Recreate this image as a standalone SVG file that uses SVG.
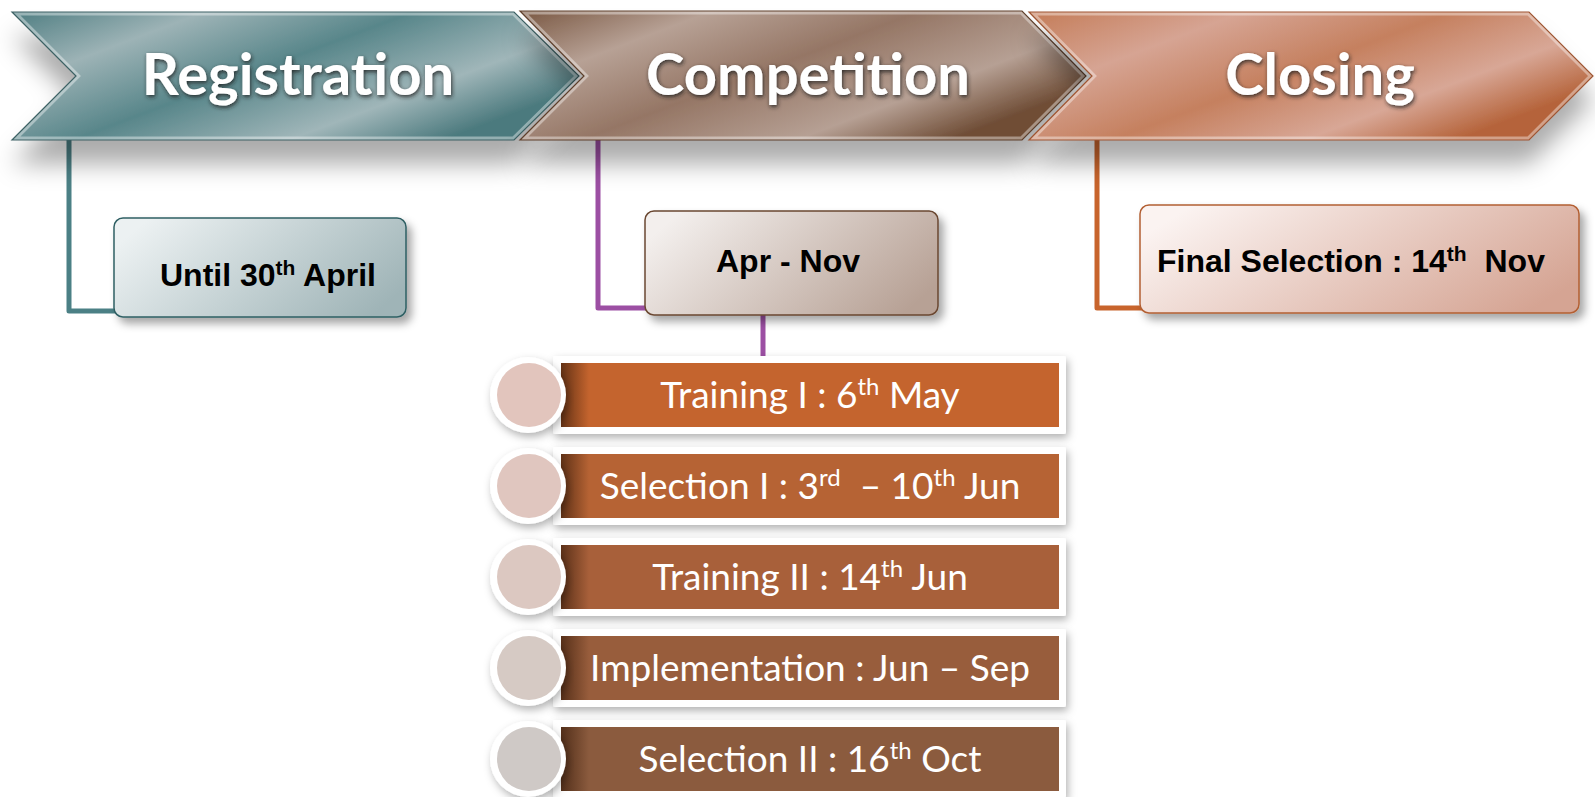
<svg xmlns="http://www.w3.org/2000/svg" xmlns:xlink="http://www.w3.org/1999/xlink" width="1595" height="797" viewBox="0 0 1595 797">
<style>
.hdr{font-family:Lato,"Open Sans","Liberation Sans",sans-serif;font-weight:700;font-size:58px;fill:#fff;text-anchor:middle}
.box{font-family:"Liberation Sans",Arial,sans-serif;font-weight:700;font-size:32px;fill:#000}
.itm{font-family:Lato,"Open Sans","Liberation Sans",sans-serif;font-size:37px;fill:#fff;text-anchor:middle}
.conn{fill:none;stroke-width:5;stroke-linejoin:round}
.frame{fill:#fff;filter:url(#itemShadow)}
.ring{fill:#fff;filter:url(#itemShadow)}
.bevel{fill:none;stroke:#fff;stroke-opacity:0.4;stroke-width:7}
</style>
<defs>
<path id="chev1" d="M12,12 L514,12 L579,76 L514,140 L12,140 L76,76 Z"/>
<path id="chev2" d="M520,11 L1022,11 L1086,76 L1022,140 L520,140 L584,76 Z"/>
<path id="chev3" d="M1029,12 L1529,12 L1593,76 L1529,140 L1029,140 L1092,76 Z"/>
<clipPath id="clip1"><use xlink:href="#chev1"/></clipPath>
<clipPath id="clip2"><use xlink:href="#chev2"/></clipPath>
<clipPath id="clip3"><use xlink:href="#chev3"/></clipPath>
<linearGradient id="gReg" x1="0" y1="0" x2="1" y2="0.6">
<stop offset="0" stop-color="#4f7e82"/><stop offset="0.25" stop-color="#9db3b6"/><stop offset="0.52" stop-color="#58868a"/><stop offset="0.8" stop-color="#a0b6b9"/><stop offset="1" stop-color="#4c7a7e"/>
</linearGradient>
<linearGradient id="gComp" x1="0" y1="0" x2="1" y2="0.6">
<stop offset="0" stop-color="#7a5843"/><stop offset="0.25" stop-color="#b7a195"/><stop offset="0.52" stop-color="#957665"/><stop offset="0.8" stop-color="#b6a094"/><stop offset="1" stop-color="#6f4d36"/>
</linearGradient>
<linearGradient id="gClose" x1="0" y1="0" x2="1" y2="0.6">
<stop offset="0" stop-color="#c47c58"/><stop offset="0.28" stop-color="#d6a493"/><stop offset="0.55" stop-color="#c5805f"/><stop offset="0.8" stop-color="#d8a796"/><stop offset="1" stop-color="#b5633a"/>
</linearGradient>
<linearGradient id="bReg" x1="0" y1="0.3" x2="1" y2="0.7">
<stop offset="0" stop-color="#ecf1f2"/><stop offset="1" stop-color="#9fb4b7"/>
</linearGradient>
<linearGradient id="bComp" x1="0" y1="0.3" x2="1" y2="0.7">
<stop offset="0" stop-color="#f3efed"/><stop offset="1" stop-color="#b7a195"/>
</linearGradient>
<linearGradient id="bClose" x1="0" y1="0.3" x2="1" y2="0.7">
<stop offset="0" stop-color="#fbf3f1"/><stop offset="1" stop-color="#d5a493"/>
</linearGradient>
<linearGradient id="shade" x1="0" y1="0" x2="1" y2="0">
<stop offset="0" stop-color="#3a1c0a" stop-opacity="0.7"/><stop offset="1" stop-color="#3a1c0a" stop-opacity="0"/>
</linearGradient>
<filter id="chevShadow" x="-5%" y="-20%" width="110%" height="200%">
<feDropShadow dx="0" dy="24" stdDeviation="12" flood-color="#000" flood-opacity="0.33"/>
</filter>
<filter id="txtGlow" x="-10%" y="-30%" width="120%" height="160%">
<feDropShadow dx="1" dy="2" stdDeviation="2.2" flood-color="#1e1e1e" flood-opacity="0.85"/>
</filter>
<filter id="boxShadow" x="-10%" y="-20%" width="125%" height="150%">
<feDropShadow dx="5" dy="6" stdDeviation="4" flood-color="#000" flood-opacity="0.35"/>
</filter>
<filter id="itemShadow" x="-10%" y="-30%" width="120%" height="170%">
<feDropShadow dx="2" dy="4" stdDeviation="4" flood-color="#000" flood-opacity="0.3"/>
</filter>
</defs>

<g id="connectors">
<path class="conn" stroke="#4b8085" d="M69,140 V311 H118"/>
<path class="conn" stroke="#9c4fa3" d="M598,140 V308 H648"/>
<path class="conn" stroke="#9c4fa3" d="M763,312 V360"/>
<path class="conn" stroke="#c8642c" d="M1097,140 V308 H1143"/>
</g>

<g id="registration">
<use xlink:href="#chev1" fill="url(#gReg)" filter="url(#chevShadow)"/>
<use xlink:href="#chev1" class="bevel" clip-path="url(#clip1)"/>
<use xlink:href="#chev1" fill="none" stroke="#3c6164" stroke-width="1.2"/>
<text class="hdr" x="298" y="95" filter="url(#txtGlow)">Registration</text>
</g>

<g id="competition">
<use xlink:href="#chev2" fill="url(#gComp)" filter="url(#chevShadow)"/>
<use xlink:href="#chev2" class="bevel" clip-path="url(#clip2)"/>
<use xlink:href="#chev2" fill="none" stroke="#5e3f2b" stroke-width="1.2"/>
<text class="hdr" x="808" y="95" filter="url(#txtGlow)">Competition</text>
</g>

<g id="closing">
<use xlink:href="#chev3" fill="url(#gClose)" filter="url(#chevShadow)"/>
<use xlink:href="#chev3" class="bevel" clip-path="url(#clip3)"/>
<use xlink:href="#chev3" fill="none" stroke="#9f5532" stroke-width="1.2"/>
<text class="hdr" x="1320" y="95" filter="url(#txtGlow)">Closing</text>
</g>

<g id="box-registration">
<rect x="114" y="218" width="292" height="99" rx="9" fill="url(#bReg)" stroke="#2f5f63" stroke-width="1.5" filter="url(#boxShadow)"/>
<text class="box" x="160" y="286">Until 30<tspan dy="-11" font-size="21">th</tspan><tspan dy="11"> April</tspan></text>
</g>

<g id="box-competition">
<rect x="645" y="211" width="293" height="104" rx="9" fill="url(#bComp)" stroke="#6a4730" stroke-width="1.5" filter="url(#boxShadow)"/>
<text class="box" x="716" y="272">Apr - Nov</text>
</g>

<g id="box-closing">
<rect x="1140" y="205" width="439" height="108" rx="9" fill="url(#bClose)" stroke="#b35f33" stroke-width="1.5" filter="url(#boxShadow)"/>
<text class="box" x="1157" y="272" xml:space="preserve">Final Selection : 14<tspan dy="-11" font-size="21">th</tspan><tspan dy="11">  Nov</tspan></text>
</g>

<g id="item-training-1">
<rect class="frame" x="553" y="356" width="513" height="78" rx="2"/>
<rect x="561" y="363" width="498" height="64" fill="#c4642e"/>
<rect x="561" y="363" width="28" height="64" fill="url(#shade)"/>
<circle class="ring" cx="528" cy="395" r="38"/>
<circle cx="529" cy="395" r="32" fill="#e2c5bd"/>
<text class="itm" x="810" y="408">Training I : 6<tspan dy="-13" font-size="24">th</tspan><tspan dy="13"> May</tspan></text>
</g>

<g id="item-selection-1">
<rect class="frame" x="553" y="447" width="513" height="78" rx="2"/>
<rect x="561" y="454" width="498" height="64" fill="#b66334"/>
<rect x="561" y="454" width="28" height="64" fill="url(#shade)"/>
<circle class="ring" cx="528" cy="486" r="38"/>
<circle cx="529" cy="486" r="32" fill="#e0c6bf"/>
<text class="itm" x="810" y="499" xml:space="preserve">Selection I : 3<tspan dy="-13" font-size="24">rd</tspan><tspan dy="13">  – 10</tspan><tspan dy="-13" font-size="24">th</tspan><tspan dy="13"> Jun</tspan></text>
</g>

<g id="item-training-2">
<rect class="frame" x="553" y="538" width="513" height="78" rx="2"/>
<rect x="561" y="545" width="498" height="64" fill="#a8603a"/>
<rect x="561" y="545" width="28" height="64" fill="url(#shade)"/>
<circle class="ring" cx="528" cy="577" r="38"/>
<circle cx="529" cy="577" r="32" fill="#dcc8c1"/>
<text class="itm" x="810" y="590">Training II : 14<tspan dy="-13" font-size="24">th</tspan><tspan dy="13"> Jun</tspan></text>
</g>

<g id="item-implementation">
<rect class="frame" x="553" y="629" width="513" height="78" rx="2"/>
<rect x="561" y="636" width="498" height="64" fill="#985d3c"/>
<rect x="561" y="636" width="28" height="64" fill="url(#shade)"/>
<circle class="ring" cx="528" cy="668" r="38"/>
<circle cx="529" cy="668" r="32" fill="#d6cac4"/>
<text class="itm" x="810" y="681">Implementation : Jun – Sep</text>
</g>

<g id="item-selection-2">
<rect class="frame" x="553" y="720" width="513" height="78" rx="2"/>
<rect x="561" y="727" width="498" height="64" fill="#8b5b3e"/>
<rect x="561" y="727" width="28" height="64" fill="url(#shade)"/>
<circle class="ring" cx="528" cy="759" r="38"/>
<circle cx="529" cy="759" r="32" fill="#cfc9c6"/>
<text class="itm" x="810" y="772">Selection II : 16<tspan dy="-13" font-size="24">th</tspan><tspan dy="13"> Oct</tspan></text>
</g>
</svg>
